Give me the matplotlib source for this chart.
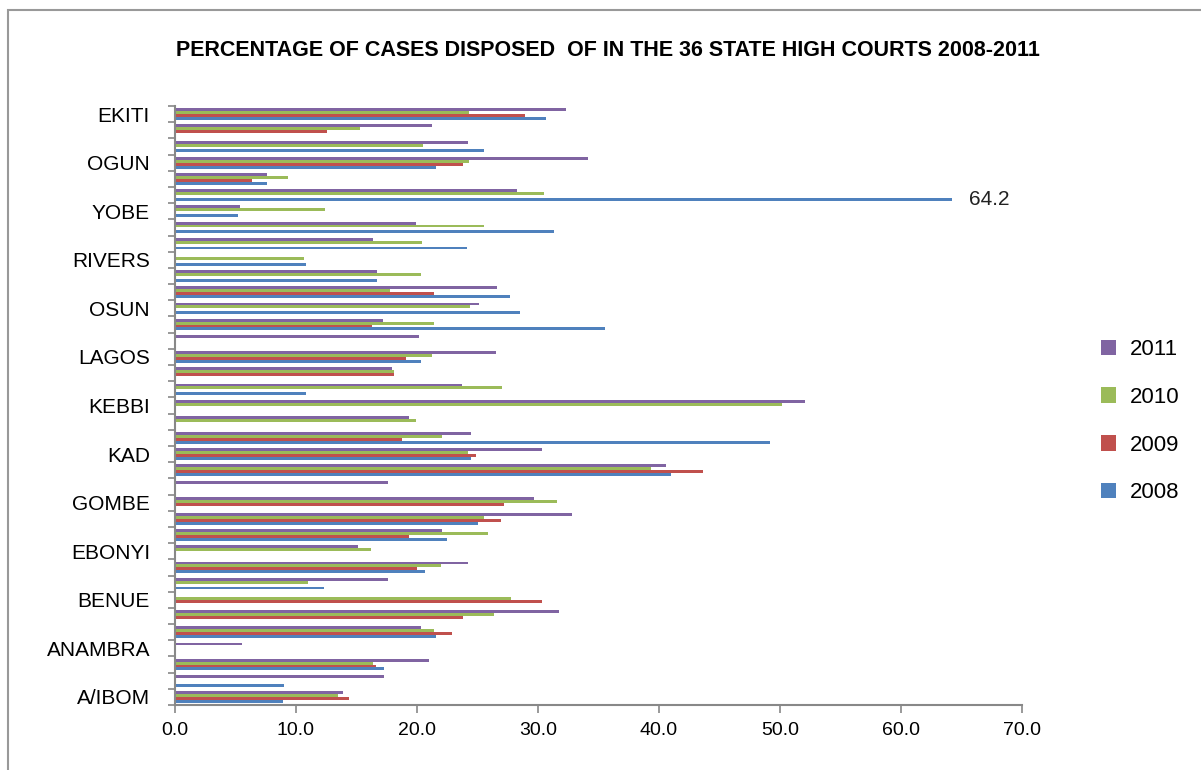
import matplotlib
matplotlib.use('Agg')
import matplotlib.pyplot as plt
from matplotlib.patches import Rectangle
import numpy as np

# categories from bottom (index 0) to top
states = ['A/IBOM', 'ABIA', 'ADAMAWA', 'ANAMBRA', 'BAUCHI', 'BAYELSA', 'BENUE', 'BORNO',
          'C/RIVER', 'EBONYI', 'EDO', 'ENUGU', 'GOMBE', 'IMO', 'JIGAWA', 'KAD', 'KANO',
          'KATSINA', 'KEBBI', 'KOGI', 'KWARA', 'LAGOS', 'NASARAWA', 'NIGER', 'OSUN', 'OYO',
          'PLATEAU', 'RIVERS', 'SOKOTO', 'TARABA', 'YOBE', 'ZAMFARA', 'FCT', 'OGUN', 'ONDO',
          'DELTA', 'EKITI']

v2008 = [8.9, 9.0, 17.3, 0, 21.6, 0, 0, 12.3, 20.7, 0, 22.5, 25.0, 0, 0, 41.0, 24.5, 49.2,
         0, 0, 10.8, 0, 20.3, 0, 35.5, 28.5, 27.7, 16.7, 10.8, 24.1, 31.3, 5.2, 64.2, 7.6,
         21.6, 25.5, 0, 30.7]
v2009 = [14.4, 0, 16.6, 0, 22.9, 23.8, 30.3, 0, 20.0, 0, 19.3, 26.9, 27.2, 0, 43.6, 24.9, 18.8,
         0, 0, 0, 18.1, 19.1, 0, 16.3, 0, 21.4, 0, 0, 0, 0, 0, 0, 6.4,
         23.8, 0, 12.6, 28.9]
v2010 = [13.5, 0, 16.4, 0, 21.4, 26.4, 27.8, 11.0, 22.0, 16.2, 25.9, 25.5, 31.6, 0, 39.3, 24.2, 22.1,
         19.9, 50.2, 27.0, 18.1, 21.2, 0, 21.4, 24.4, 17.8, 20.3, 10.7, 20.4, 25.5, 12.4, 30.5, 9.3,
         24.3, 20.5, 15.3, 24.3]
v2011 = [13.9, 17.3, 21.0, 5.5, 20.3, 31.7, 0, 17.6, 24.2, 15.1, 22.1, 32.8, 29.7, 17.6, 40.6, 30.3, 24.5,
         19.3, 52.1, 23.7, 17.9, 26.5, 20.2, 17.2, 25.1, 26.6, 16.7, 0, 16.4, 19.9, 5.4, 28.3, 7.6,
         34.1, 24.2, 21.2, 32.3]

years = ['2008', '2009', '2010', '2011']
colors = ['#4F81BD', '#C0504D', '#9BBB59', '#8064A2']
series = [v2008, v2009, v2010, v2011]

plt.rcParams['font.family'] = ['Liberation Sans', 'DejaVu Sans']

fig = plt.figure(figsize=(12.01, 7.70), dpi=100)
ax = fig.add_axes([0.1457, 0.0844, 0.851 - 0.1457, 0.8623 - 0.0844])

y = np.arange(len(states))
bh = 0.18
offsets = [-0.27, -0.09, 0.09, 0.27]
handles = []
for vals, col, lab, off in zip(series, colors, years, offsets):
    h = ax.barh(y + off, vals, height=bh, color=col, label=lab, linewidth=0)
    handles.append(h)

# label for the off-scale value
ax.annotate('64.2', xy=(v2008[31], 31 + offsets[0]), xytext=(12, 0), textcoords='offset points',
            va='center', ha='left', fontsize=15, color='#222222')

ax.set_xlim(0, 70)
ax.set_ylim(-0.5, len(states) - 0.5)
ax.set_xticks(np.arange(0, 71, 10))
ax.set_xticklabels([f'{t:.1f}' for t in np.arange(0, 71, 10)], fontsize=14)
ax.set_yticks(y[::3])
ax.set_yticklabels(states[::3], fontsize=15)
ax.set_yticks(np.arange(-0.5, len(states), 1), minor=True)
ax.tick_params(axis='y', which='major', length=0, pad=18)
ax.tick_params(axis='y', which='minor', length=5, color='#888888', width=1.2)
ax.tick_params(axis='x', which='major', length=6, color='#888888', width=1.2, pad=6)

for s in ['top', 'right']:
    ax.spines[s].set_visible(False)
for s in ['left', 'bottom']:
    ax.spines[s].set_color('#888888')
    ax.spines[s].set_linewidth(1.5)

fig.text(0.506, 0.935, 'PERCENTAGE OF CASES DISPOSED  OF IN THE 36 STATE HIGH COURTS 2008-2011',
         ha='center', va='center', fontsize=15.5, fontweight='bold')

leg = fig.legend(handles[::-1], years[::-1], loc='center left', bbox_to_anchor=(0.9, 0.453),
                 frameon=False, labelspacing=1.2, handlelength=0.7, handleheight=0.7,
                 handletextpad=0.6, prop={'size': 16})

fig.patches.append(Rectangle((8 / 1201, -0.05), 1.1, 1 - 10 / 770 + 0.05, transform=fig.transFigure,
                             fill=False, edgecolor='#999999', linewidth=1.5))

fig.savefig('out.png', dpi=100)
